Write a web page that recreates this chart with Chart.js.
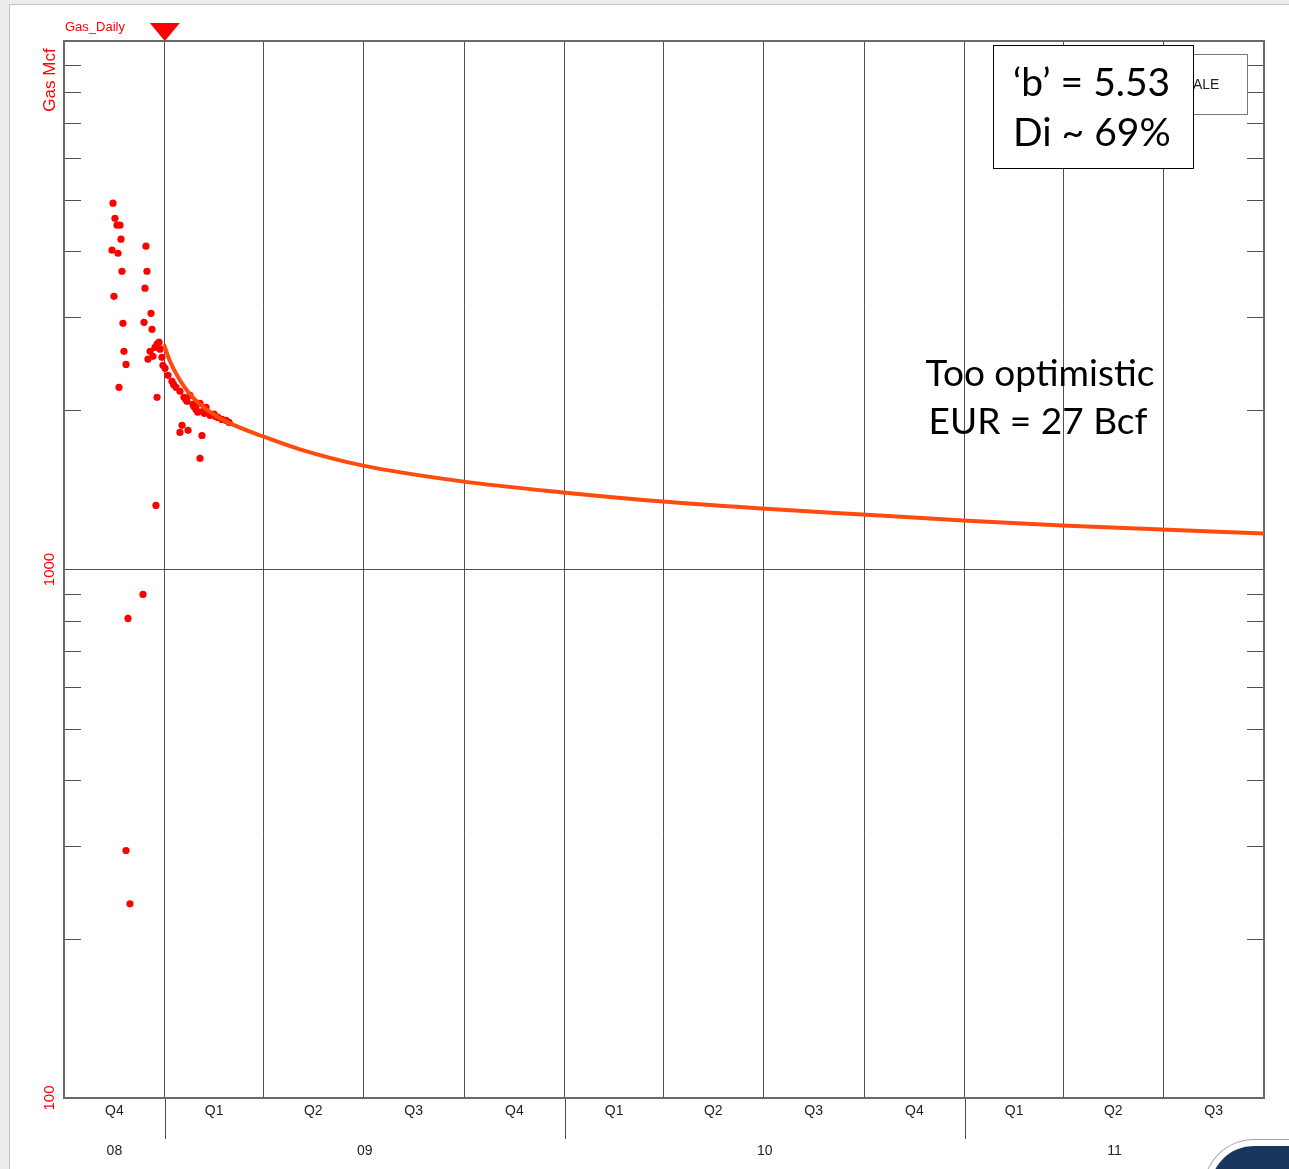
<!DOCTYPE html>
<html>
<head>
<meta charset="utf-8">
<script src="https://cdn.jsdelivr.net/npm/chart.js@4.4.1/dist/chart.umd.min.js"></script>
<style>
  html, body { margin: 0; padding: 0; background: #ececec; overflow: hidden; }
  #frame { position: absolute; left: 9px; top: 4px; width: 1300px; height: 1200px; background: #fff;
           border-left: 1px solid #c4c4c4; border-top: 1px solid #c4c4c4; }
  #chart { position: absolute; left: 0; top: 0; }
  #corner { position: absolute; left: 1210px; top: 1146px; width: 120px; height: 60px; background: #1b365d;
            border-radius: 44px 0 0 0; box-shadow: 0 0 0 6px #fff, 0 0 0 7px #a8a8a8; }
</style>
</head>
<body>
<div id="frame"></div>
<canvas id="chart" width="1289" height="1169"></canvas>
<div id="corner"></div>
<script>
// x values are days counted from 1 Oct 2008
const quarterStarts = [0, 92, 182, 273, 365, 457, 547, 638, 730, 822, 912, 1003, 1095];
const quarterLabels = ["Q4", "Q1", "Q2", "Q3", "Q4", "Q1", "Q2", "Q3", "Q4", "Q1", "Q2", "Q3"];
const yearLabels = ["08", "09", "10", "11"];
const yearBreaks = [92, 457, 822];
const minorTicks = [200, 300, 400, 500, 600, 700, 800, 900, 2000, 3000, 4000, 5000, 6000, 7000, 8000, 9000];

// Gas_Daily measured points
const dailyDays = [44.7, 46.5, 48.4, 51.1, 52.0, 43.8, 49.3, 52.9, 45.6, 74.8, 75.7, 73.9, 79.4, 53.8, 73.0, 80.3,
  54.7, 56.6, 50.2, 84.9, 83.9, 72.1, 58.4, 56.6, 60.2,
  76.6, 78.5, 81.2, 83.0, 84.9, 86.7, 87.6, 89.4, 90.3, 92.2, 94.9, 98.5, 102.2, 105.8, 109.5, 112.2, 115.0,
  117.7, 120.4, 124.1, 126.8, 129.6, 133.2, 136.9, 140.5, 144.2, 147.8, 150.6,
  107.7, 105.8, 113.2, 125.9, 124.1, 118.5, 122.0, 128.0, 138.0, 100.0, 111.0];
const dailyGas = [4933, 4620, 4483, 4483, 4217, 4019, 3966, 3667, 3288, 4090, 3667, 3406, 3053, 2923, 2936, 2848,
  2587, 2444, 2212, 2117, 1322, 897, 808, 294, 233,
  2500, 2587, 2531, 2633, 2669, 2692, 2611, 2520, 2434, 2402, 2330, 2270, 2212, 2174, 2117, 2081, 2136,
  2054, 2009, 2062, 1992, 2026, 1958, 1968, 1940, 1923, 1915, 1899,
  1874, 1817, 1834, 1793, 1623, 2035, 1985, 1975, 1950, 2240, 2100];

// hyperbolic forecast curve
const fitDays = [91.2, 96.7, 105.8, 115.0, 124.1, 137.8, 151.5, 181.6, 215.3, 271.9, 363.2, 455.3, 545.7, 636.9,
  728.2, 820.3, 910.7, 1001.9, 1095];
const fitGas = [2667, 2477, 2280, 2145, 2054, 1958, 1890, 1786, 1688, 1574, 1468, 1399, 1345, 1305,
  1271, 1238, 1211, 1191, 1170];

const decorations = {
  id: "decorations",
  beforeDatasetsDraw(chart) {
    const { ctx, chartArea: a, scales: { x, y } } = chart;
    ctx.save();
    ctx.strokeStyle = "#505050";
    ctx.lineWidth = 1;
    ctx.beginPath();
    minorTicks.forEach(v => {
      const py = Math.round(y.getPixelForValue(v)) + 0.5;
      ctx.moveTo(a.left, py); ctx.lineTo(a.left + 17, py);
      ctx.moveTo(a.right - 17, py); ctx.lineTo(a.right, py);
    });
    // year separators below the axis
    yearBreaks.forEach(d => {
      const px = Math.round(x.getPixelForValue(d)) + 0.5;
      ctx.moveTo(px, a.bottom); ctx.lineTo(px, a.bottom + 41);
    });
    ctx.stroke();
    ctx.strokeStyle = "#6a6a6a";
    ctx.lineWidth = 2;
    ctx.strokeRect(a.left, a.top, a.right - a.left, a.bottom - a.top);
    ctx.restore();
  },
  afterDraw(chart) {
    const { ctx, chartArea: a, scales: { x, y } } = chart;
    ctx.save();
    ctx.textAlign = "center";
    ctx.textBaseline = "middle";
    ctx.fillStyle = "#222";
    ctx.font = "14px 'Liberation Sans', Arial, sans-serif";
    quarterLabels.forEach((q, i) => {
      const px = (x.getPixelForValue(quarterStarts[i]) + x.getPixelForValue(quarterStarts[i + 1])) / 2;
      ctx.fillText(q, px, a.bottom + 13);
    });
    const yearEdges = [0].concat(yearBreaks, [quarterStarts[quarterStarts.length - 1]]);
    yearLabels.forEach((yl, i) => {
      const px = (x.getPixelForValue(yearEdges[i]) + x.getPixelForValue(yearEdges[i + 1])) / 2;
      ctx.fillText(yl, px, a.bottom + 53);
    });

    // red left-axis texts
    ctx.fillStyle = "#ff0000";
    [["Gas Mcf", 80, 17], ["1000", y.getPixelForValue(1000), 15], ["100", y.getPixelForValue(100), 15]].forEach(([t, py, fs]) => {
      ctx.save();
      ctx.font = fs + "px 'Liberation Sans', Arial, sans-serif";
      ctx.translate(50, py);
      ctx.rotate(-Math.PI / 2);
      ctx.fillText(t, 0, 0);
      ctx.restore();
    });
    ctx.textAlign = "left";
    ctx.font = "13px 'Liberation Sans', Arial, sans-serif";
    ctx.fillText("Gas_Daily", 65, 27);

    // start marker
    const mx = x.getPixelForValue(92);
    ctx.beginPath();
    ctx.moveTo(mx - 15, 23); ctx.lineTo(mx + 15, 23); ctx.lineTo(mx, a.top);
    ctx.closePath();
    ctx.fill();

    // legend box (mostly hidden)
    ctx.fillStyle = "#fff";
    ctx.strokeStyle = "#777";
    ctx.lineWidth = 1;
    ctx.fillRect(1120, 54, 128, 60);
    ctx.strokeRect(1120.5, 54.5, 127, 60);
    ctx.fillStyle = "#222";
    ctx.font = "14px 'Liberation Sans', Arial, sans-serif";
    ctx.fillText("ALE", 1193, 85);

    // annotation box
    ctx.fillStyle = "#fff";
    ctx.fillRect(993, 45, 200, 123);
    ctx.strokeStyle = "#000";
    ctx.strokeRect(993.5, 45.5, 200, 123);
    ctx.fillStyle = "#000";
    ctx.font = "39px Lato, 'Open Sans', sans-serif";
    ctx.textBaseline = "alphabetic";
    ctx.fillText("\u2018b\u2019 = 5.53", 1013, 96);
    ctx.fillText("Di ~ 69%", 1013, 146);

    ctx.textAlign = "center";
    ctx.font = "37px Lato, 'Open Sans', sans-serif";
    ctx.fillText("Too optimistic", 1040, 386);
    ctx.fillText("EUR = 27 Bcf", 1038, 434);
    ctx.restore();
  }
};

new Chart(document.getElementById("chart"), {
  type: "scatter",
  data: {
    datasets: [
      {
        label: "Forecast",
        type: "line",
        data: fitDays.map((d, i) => ({ x: d, y: fitGas[i] })),
        borderColor: "#ff4b0d",
        borderWidth: 4,
        pointRadius: 0,
        cubicInterpolationMode: "monotone",
        fill: false,
        order: 0
      },
      {
        label: "Gas_Daily",
        data: dailyDays.map((d, i) => ({ x: d, y: dailyGas[i] })),
        backgroundColor: "#ff0000",
        borderColor: "#ff0000",
        borderWidth: 0,
        pointRadius: 3.6,
        order: 1
      }
    ]
  },
  options: {
    responsive: false,
    animation: false,
    layout: { padding: { left: 64, top: 41, right: 25, bottom: 71 } },
    plugins: { legend: { display: false }, tooltip: { enabled: false } },
    scales: {
      x: {
        type: "linear",
        min: 0,
        max: 1095,
        afterBuildTicks: s => { s.ticks = quarterStarts.map(v => ({ value: v })); },
        ticks: { display: false },
        grid: { color: "#505050", lineWidth: 1, drawTicks: false },
        border: { display: false }
      },
      y: {
        type: "logarithmic",
        min: 100,
        max: 10000,
        afterBuildTicks: s => { s.ticks = [100, 1000, 10000].map(v => ({ value: v })); },
        ticks: { display: false },
        grid: { color: "#505050", lineWidth: 1, drawTicks: false },
        border: { display: false }
      }
    }
  },
  plugins: [decorations]
});
</script>
</body>
</html>
